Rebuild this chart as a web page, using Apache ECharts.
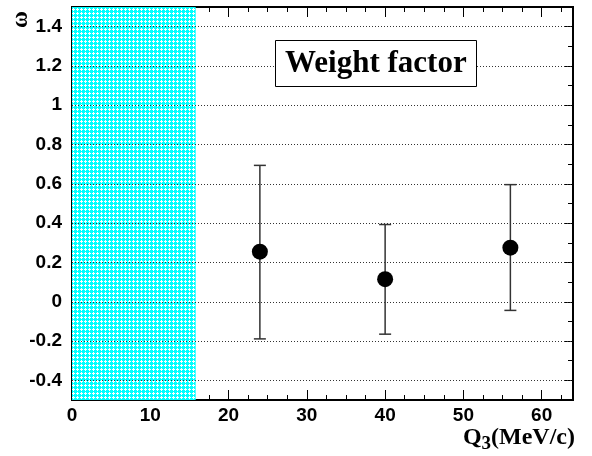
<!DOCTYPE html>
<html>
<head>
<meta charset="utf-8">
<script src="https://cdn.jsdelivr.net/npm/echarts@6/dist/echarts.min.js"></script>
<style>
  html, body { margin: 0; padding: 0; background: #fff; }
  #chart { width: 592px; height: 456px; }
</style>
</head>
<body>
<div id="chart"></div>
<script>
// data
const xValues = [24, 40, 56];
const yValues = [0.255, 0.115, 0.275];
const yLow = [-0.189, -0.165, -0.044];
const yHigh = [0.694, 0.393, 0.596];
const xMajorTicks = [0, 10, 20, 30, 40, 50, 60];
const xMinorTicks = [2.5, 5, 7.5, 12.5, 15, 17.5, 22.5, 25, 27.5, 32.5, 35, 37.5, 42.5, 45, 47.5, 52.5, 55, 57.5, 62.5];
const yMajorTicks = [-0.4, -0.2, 0, 0.2, 0.4, 0.6, 0.8, 1, 1.2, 1.4];
const yMinorTicks = [-0.5, -0.3, -0.1, 0.1, 0.3, 0.5, 0.7, 0.9, 1.1, 1.3, 1.5];
const excludedRange = [0, 15.8];

// cyan hatch pattern (small white crosses)
const pat = document.createElement('canvas');
pat.width = 4; pat.height = 4;
const pc = pat.getContext('2d');
pc.fillStyle = '#00ffff';
pc.fillRect(0, 0, 4, 4);
pc.fillStyle = '#ffffff';
pc.fillRect(1, 0, 1, 3);
pc.fillRect(0, 1, 3, 1);

const chart = echarts.init(document.getElementById('chart'));

const labelFont = { color: '#000', fontFamily: 'Liberation Sans', fontWeight: 'bold', fontSize: 19 };

function xAx(pos, ticks, len, labels) {
  return {
    type: 'value', position: pos, min: 0, max: 64,
    axisLine: { show: true, onZero: false, lineStyle: { color: '#000', width: 2 } },
    axisTick: { show: true, inside: true, length: len, customValues: ticks, lineStyle: { color: '#000', width: 1 } },
    axisLabel: labels ? Object.assign({ show: true, margin: 6, customValues: xMajorTicks }, labelFont) : { show: false },
    splitLine: { show: false }
  };
}
function yAx(pos, ticks, len, labels) {
  return {
    type: 'value', position: pos, min: -0.5, max: 1.5,
    axisLine: { show: true, onZero: false, lineStyle: { color: '#000', width: 2 } },
    axisTick: { show: true, inside: true, length: len, customValues: ticks, lineStyle: { color: '#000', width: 1 } },
    axisLabel: labels ? Object.assign({ show: true, margin: 10, customValues: yMajorTicks }, labelFont) : { show: false },
    splitLine: { show: false }
  };
}

chart.setOption({
  animation: false,
  grid: { left: 72, right: 19, top: 7, bottom: 56 },
  title: {
    text: 'Weight factor',
    left: 275, top: 40,
    padding: [8, 10],
    borderColor: '#000', borderWidth: 1,
    backgroundColor: '#fff',
    textStyle: { fontFamily: 'Liberation Serif', fontWeight: 'bold', fontSize: 31, color: '#000' }
  },
  xAxis: [
    xAx('bottom', xMajorTicks, 10, true),
    xAx('bottom', xMinorTicks, 5, false),
    xAx('top', xMajorTicks, 10, false),
    xAx('top', xMinorTicks, 5, false)
  ],
  yAxis: [
    yAx('left', yMajorTicks, 9, true),
    yAx('left', yMinorTicks, 5, false),
    yAx('right', yMajorTicks, 9, false),
    yAx('right', yMinorTicks, 5, false)
  ],
  graphic: [
    {
      type: 'text', x: 10, y: 28, rotation: Math.PI / 2,
      style: { text: 'ω', fontFamily: 'Liberation Serif', fontWeight: 'bold', fontSize: 23, fill: '#000' }
    },
    {
      type: 'text', right: 17, top: 426,
      style: {
        text: '{a|Q}{s|3}{a|(MeV/c)}',
        rich: {
          a: { fontFamily: 'Liberation Serif', fontWeight: 'bold', fontSize: 24, fill: '#000' },
          s: { fontFamily: 'Liberation Serif', fontWeight: 'bold', fontSize: 19, fill: '#000', padding: [13, 0, 0, 0] }
        }
      }
    }
  ],
  series: [
    {
      type: 'line', data: [], z: 1,
      markArea: {
        silent: true,
        itemStyle: { color: { image: pat, repeat: 'repeat' }, opacity: 1 },
        data: [[{ xAxis: excludedRange[0] }, { xAxis: excludedRange[1] }]]
      }
    },
    {
      type: 'line', data: [], z: 2,
      markLine: {
        silent: true, symbol: 'none',
        label: { show: false },
        lineStyle: { color: '#333', type: [1, 2], width: 1, opacity: 1 },
        data: yMajorTicks.map(v => ({ yAxis: v }))
      }
    },
    {
      type: 'custom', z: 3,
      data: xValues.map((x, i) => [x, yLow[i], yHigh[i]]),
      renderItem: function (params, api) {
        const lo = api.coord([api.value(0), api.value(1)]);
        const hi = api.coord([api.value(0), api.value(2)]);
        const w = 6;
        const st = { stroke: '#333', lineWidth: 1.5 };
        return {
          type: 'group',
          children: [
            { type: 'line', shape: { x1: lo[0], y1: lo[1], x2: hi[0], y2: hi[1] }, style: st },
            { type: 'line', shape: { x1: lo[0] - w, y1: lo[1], x2: lo[0] + w, y2: lo[1] }, style: st },
            { type: 'line', shape: { x1: hi[0] - w, y1: hi[1], x2: hi[0] + w, y2: hi[1] }, style: st }
          ]
        };
      }
    },
    {
      type: 'scatter', z: 4,
      symbol: 'circle', symbolSize: 16,
      itemStyle: { color: '#000', opacity: 1 },
      data: xValues.map((x, i) => [x, yValues[i]])
    }
  ]
});
</script>
</body>
</html>
